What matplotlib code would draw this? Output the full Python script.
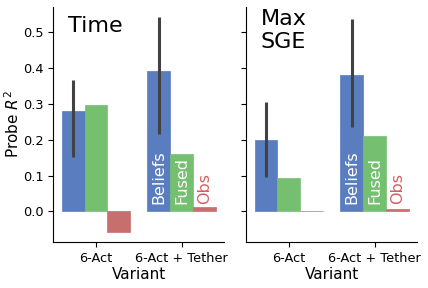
import matplotlib
matplotlib.use("Agg")
import matplotlib.pyplot as plt
import numpy as np
import seaborn as sns

variants = ["6-Act", "6-Act + Tether"]
hues = ["Beliefs", "Fused", "Obs"]

# Time panel
time_vals = [[0.280, 0.296, -0.056], [0.391, 0.161, 0.013]]
time_beliefs_ci = [[0.151, 0.365], [0.216, 0.541]]

# Max SGE panel
sge_vals = [[0.199, 0.092, 0.002], [0.379, 0.209, 0.007]]
sge_beliefs_ci = [[0.097, 0.306], [0.236, 0.536]]

muted = sns.color_palette("muted")
bar_colors = [sns.desaturate(muted[i], 0.75) for i in (0, 2, 3)]
text_colors = ["white", "white", muted[3]]

fig = plt.figure(figsize=(4.28, 2.88), dpi=100)
ax1 = fig.add_axes([0.1245, 0.16, 0.40, 0.816])
ax2 = fig.add_axes([0.575, 0.16, 0.40, 0.816], sharey=ax1)

width = 0.8 / 3


def draw(ax, vals, ci, title, ty):
    x = np.arange(len(variants))
    for j in range(3):
        pos = x - 0.4 + width * (j + 0.5)
        ax.bar(pos, [v[j] for v in vals], width=width, color=bar_colors[j],
               edgecolor=bar_colors[j], linewidth=0.5)
    bx = x - 0.4 + width * 0.5
    for i in range(len(variants)):
        ax.plot([bx[i], bx[i]], ci[i], color="#424242", lw=2.2,
                solid_capstyle="butt")
    for j in range(3):
        pos = 1 - 0.4 + width * (j + 0.5)
        ax.text(pos, 0.02, hues[j], rotation=90, ha="center", va="bottom",
                color=text_colors[j], fontsize=11.5)
    ax.text(0.085, ty, title, transform=ax.transAxes, ha="left", va="top",
            fontsize=16, linespacing=1.15)
    ax.set_xlim(-0.5, 1.5)
    ax.set_xticks(x)
    ax.set_xticklabels(variants, fontsize=9.3)
    ax.set_xlabel("Variant", fontsize=11, labelpad=2)
    ax.spines["top"].set_visible(False)
    ax.spines["right"].set_visible(False)


draw(ax1, time_vals, time_beliefs_ci, "Time", 0.962)
draw(ax2, sge_vals, sge_beliefs_ci, "Max\nSGE", 0.99)

ax1.set_ylim(-0.085, 0.57)
ax1.set_yticks([0.0, 0.1, 0.2, 0.3, 0.4, 0.5])
ax1.tick_params(axis="y", labelsize=9.3)
ax1.set_ylabel("Probe $R^2$", fontsize=11, labelpad=0.5)
ax2.tick_params(axis="y", labelleft=False)

fig.savefig("out.png", dpi=100)
